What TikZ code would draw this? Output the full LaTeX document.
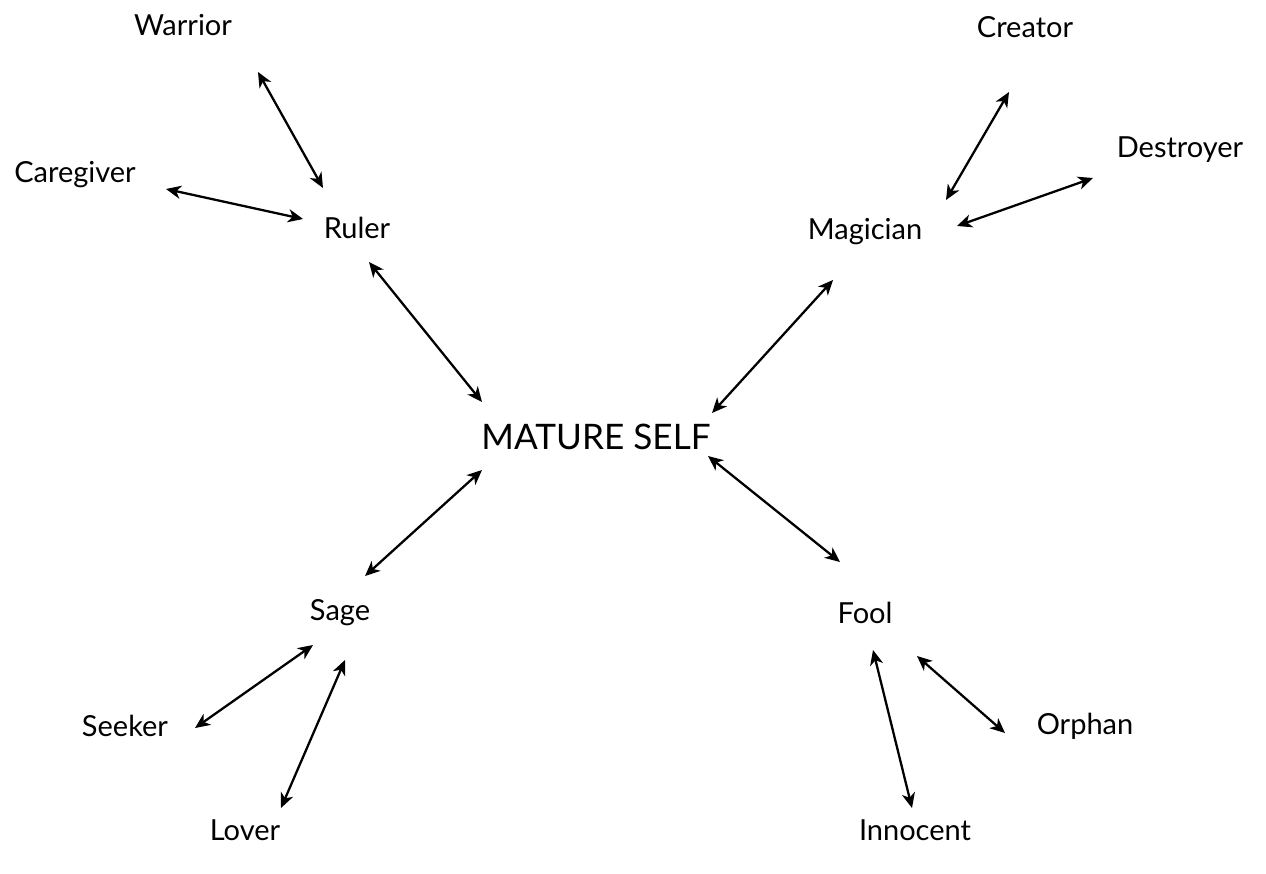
\documentclass[tikz,border=0pt]{standalone}
\usepackage{fontspec}
\setmainfont{Lato}
\usetikzlibrary{arrows.meta,calc}

\tikzset{
  arch/.style={font=\fontsize{16.5}{19}\selectfont,inner sep=0pt},
  selfnode/.style={font=\fontsize{20}{24}\selectfont,inner sep=0pt},
  link/.style={{Stealth[length=8.5pt,width=7.5pt,inset=2.5pt]}-{Stealth[length=8.5pt,width=7.5pt,inset=2.5pt]},line width=1.3pt}
}

\begin{document}
\begin{tikzpicture}[x=0.02cm,y=-0.02cm]
        \useasboundingbox (0,0) rectangle (1266,874);

        \coordinate (cself) at (596,437);
        \coordinate (cruler) at (357,228);
        \coordinate (cmagician) at (865,232);
        \coordinate (csage) at (340,613);
        \coordinate (cfool) at (865,613);

        \node[selfnode] (self) at (cself){MATURE SELF};
        \node[arch] (ruler) at (cruler){Ruler};
        \node[arch] (magician) at (cmagician){Magician};
        \node[arch] (sage) at (csage){Sage};
        \node[arch] (fool) at (cfool){Fool};

        \node[arch] (warrior) at (183,25){Warrior};
        \node[arch] (caregiver) at (75,175){Caregiver};
        \node[arch] (creator) at (1025,27){Creator};
        \node[arch] (destroyer) at (1180,150){Destroyer};
        \node[arch] (seeker) at (125,726){Seeker};
        \node[arch] (lover) at (245,830){Lover};
        \node[arch] (orphan) at (1085,726){Orphan};
        \node[arch] (innocent) at (915,830){Innocent};

        % around the self
        \draw[link] ($(ruler)+(12,34)$) -- ($(self)+(-114,-35)$);
        \draw[link] ($(magician)+(-32,48)$) -- ($(self)+(116,-24)$);
        \draw[link] ($(self)+(-114,33)$) -- ($(sage)+(25,-37)$);
        \draw[link] ($(self)+(112,19)$) -- ($(fool)+(-25,-51)$);

        % outer ring
        \draw[link] ($(warrior)+(75,47)$) -- ($(ruler)+(-34,-40)$);
        \draw[link] ($(caregiver)+(91,14)$) -- ($(ruler)+(-54,-9)$);
        \draw[link] ($(creator)+(-16,65)$) -- ($(magician)+(81,-32)$);
        \draw[link] ($(destroyer)+(-87,28)$) -- ($(magician)+(92,-6)$);
        \draw[link] ($(sage)+(-27,32)$) -- ($(seeker)+(70,2)$);
        \draw[link] ($(sage)+(5,47)$) -- ($(lover)+(36,-22)$);
        \draw[link] ($(fool)+(8,37)$) -- ($(innocent)+(-3,-22)$);
        \draw[link] ($(fool)+(52,43)$) -- ($(orphan)+(-80,7)$);
    \end{tikzpicture}
\end{document}
